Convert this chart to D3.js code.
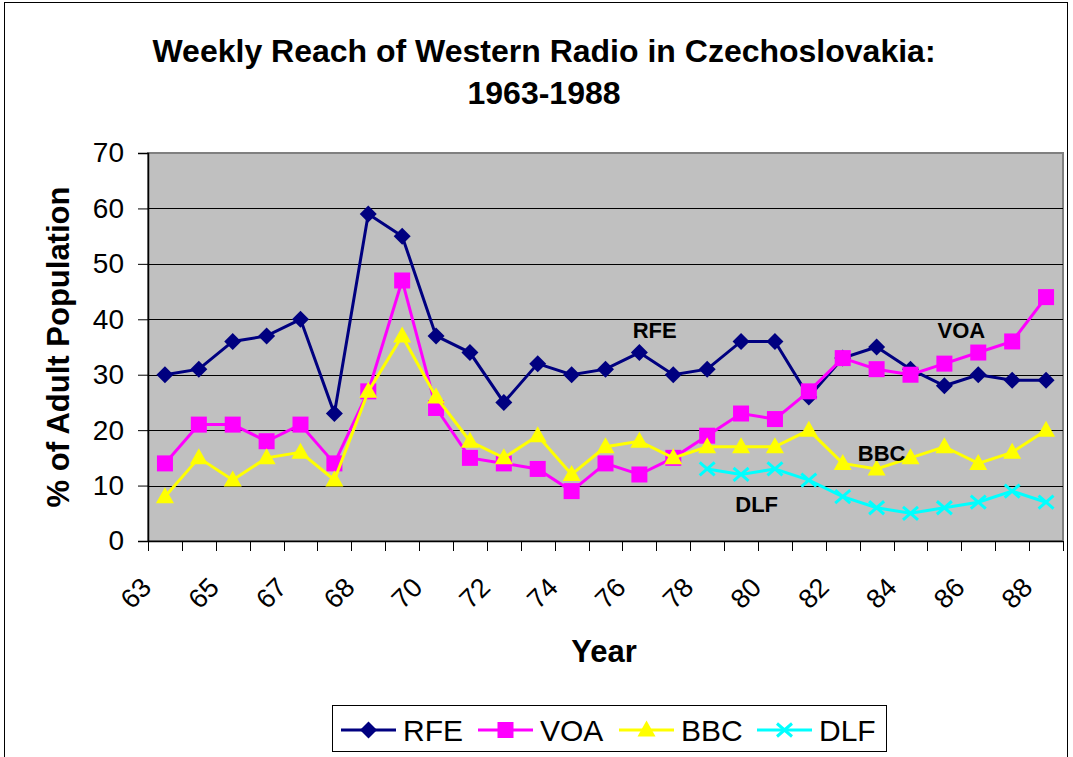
<!DOCTYPE html>
<html>
<head>
<meta charset="utf-8">
<script src="https://cdn.jsdelivr.net/npm/d3@7"></script>
<style>
  html, body { margin: 0; padding: 0; background: #fff; }
  svg { display: block; font-family: "Liberation Sans", Arial, sans-serif; }
</style>
</head>
<body>
<svg id="chart" width="1073" height="757"></svg>
<script>
// ---- data ----
const categories = ["63","64","65","66","67","68","68","69","70","71","72","73","74","75","76","77","78","79","80","81","82","83","84","85","86","87","88"];
const rfe = [30,31,36,37,40,23,59,55,37,34,25,32,30,31,34,30,31,36,36,26,33,35,31,28,30,29,29];
const voa = [14,21,21,18,21,14,27,47,24,15,14,13,9,14,12,15,19,23,22,27,33,31,30,32,34,36,44];
const bbc = [8,15,11,15,16,11,27,37,26,18,15,19,12,17,18,15,17,17,17,20,14,13,15,17,14,16,20];
const dlf = [null,null,null,null,null,null,null,null,null,null,null,null,null,null,null,null,13,12,13,11,8,6,5,6,7,9,7];
const yTicks = [0,10,20,30,40,50,60,70];
const seriesNames = ["RFE","VOA","BBC","DLF"];
const seriesColors = ["#000080","#FF00FF","#FFFF00","#00FFFF"];
const seriesMarkers = ["diamond","square","triangle","x"];
const annotations = [
  {text:"RFE", cat:14.45, value:38},
  {text:"VOA", cat:23.5, value:38},
  {text:"BBC", cat:21.15, value:15.7},
  {text:"DLF", cat:17.46, value:6.6}
];

// ---- layout ----
const svg = d3.select("#chart");
const plot = {left:148, right:1063, top:153, bottom:541};

svg.append("rect").attr("x",4.5).attr("y",2.5).attr("width",1063).attr("height",780)
  .attr("fill","#fff").attr("stroke","#000").attr("stroke-width",1);

const idx = categories.map((d,i)=>i);
const x = d3.scaleBand().domain(idx).range([plot.left, plot.right]).padding(0);
const y = d3.scaleLinear().domain([0,70]).range([plot.bottom, plot.top]);
const cx = i => x(i) + x.bandwidth()/2;
const cxf = c => plot.left + x.bandwidth()*(c+0.5);

// plot background
svg.append("rect").attr("x",plot.left).attr("y",plot.top)
  .attr("width",plot.right-plot.left).attr("height",plot.bottom-plot.top)
  .attr("fill","#C0C0C0").attr("stroke","#808080").attr("stroke-width",2);

// gridlines
svg.append("g").selectAll("line").data(yTicks.filter(d=>d>0 && d<70)).join("line")
  .attr("x1",plot.left).attr("x2",plot.right)
  .attr("y1",d=>Math.round(y(d))+0.5).attr("y2",d=>Math.round(y(d))+0.5)
  .attr("stroke","#000").attr("stroke-width",1);

// y axis
const yAxis = svg.append("g").attr("transform",`translate(${plot.left},0)`)
  .call(d3.axisLeft(y).tickValues(yTicks).tickSize(10).tickPadding(14).tickFormat(d3.format("d")));
yAxis.selectAll("text").attr("font-size",28).attr("fill","#000")
  .attr("font-family","'Liberation Sans', Arial, sans-serif");
yAxis.selectAll("line").attr("stroke","#000");
yAxis.select(".domain").attr("stroke","#000").attr("stroke-width",1.5);

// x axis
const xg = svg.append("g");
xg.append("line").attr("x1",plot.left).attr("x2",plot.right)
  .attr("y1",plot.bottom+0.5).attr("y2",plot.bottom+0.5).attr("stroke","#000").attr("stroke-width",1.5);
const bounds = idx.map(i=>x(i)).concat([plot.right]);
xg.selectAll("line.tk").data(bounds).join("line").attr("class","tk")
  .attr("x1",d=>Math.round(d)+0.5).attr("x2",d=>Math.round(d)+0.5)
  .attr("y1",plot.bottom).attr("y2",plot.bottom+10).attr("stroke","#000");
xg.selectAll("text").data(idx.filter(i=>i%2===0)).join("text")
  .attr("transform",i=>`translate(${cx(i)-12},${plot.bottom+48}) rotate(-45)`)
  .attr("text-anchor","end").attr("font-size",27).attr("fill","#000")
  .text(i=>categories[i]);

// series
const allData = [rfe, voa, bbc, dlf];
const line = d3.line().defined(d=>d.v!=null).x(d=>cx(d.i)).y(d=>y(d.v));

function marker(g, type, color, px, py) {
  if (type==="diamond") {
    g.append("path").attr("d",`M${px},${py-8.5}L${px+8.5},${py}L${px},${py+8.5}L${px-8.5},${py}Z`).attr("fill",color);
  } else if (type==="square") {
    g.append("rect").attr("x",px-8).attr("y",py-8).attr("width",16).attr("height",16).attr("fill",color);
  } else if (type==="triangle") {
    g.append("path").attr("d",`M${px},${py-9.5}L${px+9},${py+6.5}L${px-9},${py+6.5}Z`).attr("fill",color);
  } else {
    g.append("path").attr("d",`M${px-7.5},${py-6.5}L${px+7.5},${py+6.5}M${px-7.5},${py+6.5}L${px+7.5},${py-6.5}`)
      .attr("stroke",color).attr("stroke-width",3);
  }
}

allData.forEach((vals,s)=>{
  const pts = vals.map((v,i)=>({i,v}));
  const g = svg.append("g");
  g.append("path").datum(pts).attr("d",line).attr("fill","none")
    .attr("stroke",seriesColors[s]).attr("stroke-width",3);
  pts.filter(d=>d.v!=null).forEach(d=>marker(g, seriesMarkers[s], seriesColors[s], cx(d.i), y(d.v)));
});

// annotations
svg.append("g").selectAll("text").data(annotations).join("text")
  .attr("x",d=>cxf(d.cat)).attr("y",d=>y(d.value))
  .attr("text-anchor","middle").attr("dominant-baseline","central")
  .attr("font-size",22).attr("font-weight","bold").attr("fill","#000")
  .text(d=>d.text);

// titles
svg.append("text").attr("x",544).attr("y",62).attr("text-anchor","middle")
  .attr("font-size",32).attr("font-weight","bold").text("Weekly Reach of Western Radio in Czechoslovakia:");
svg.append("text").attr("x",544).attr("y",104).attr("text-anchor","middle")
  .attr("font-size",32).attr("font-weight","bold").text("1963-1988");
svg.append("text").attr("transform",`translate(69,347) rotate(-90)`).attr("text-anchor","middle")
  .attr("font-size",31).attr("font-weight","bold").text("% of Adult Population");
svg.append("text").attr("x",604).attr("y",662).attr("text-anchor","middle")
  .attr("font-size",31).attr("font-weight","bold").text("Year");

// legend
const lg = svg.append("g");
lg.append("rect").attr("x",332.5).attr("y",705.5).attr("width",554).attr("height",46)
  .attr("fill","#fff").attr("stroke","#000").attr("stroke-width",1);
const legX = [341, 478, 619, 757];
const legY = 730;
seriesNames.forEach((n,s)=>{
  const g = lg.append("g");
  g.append("line").attr("x1",legX[s]).attr("x2",legX[s]+55).attr("y1",legY).attr("y2",legY)
    .attr("stroke",seriesColors[s]).attr("stroke-width",3);
  marker(g, seriesMarkers[s], seriesColors[s], legX[s]+27.5, legY);
  g.append("text").attr("x",legX[s]+62).attr("y",legY).attr("dominant-baseline","central")
    .attr("font-size",30).attr("fill","#000").text(n);
});
</script>
</body>
</html>
